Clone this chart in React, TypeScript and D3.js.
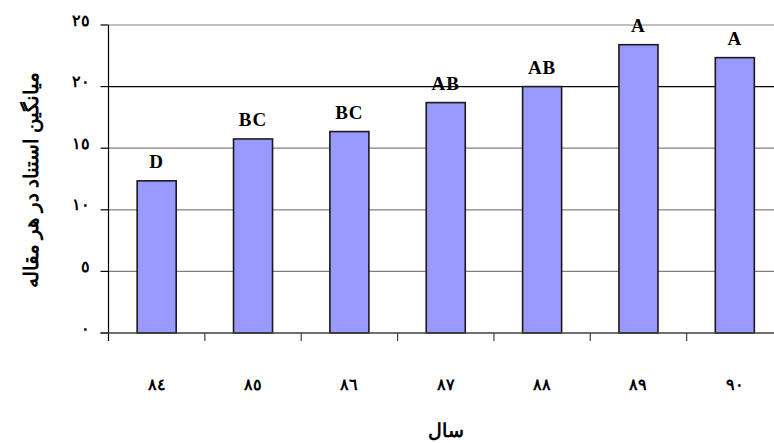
import React from "react";
import { scaleBand, scaleLinear } from "d3";

const years = ["٨٤", "٨٥", "٨٦", "٨٧", "٨٨", "٨٩", "٩٠"];
const citations = [12.35, 15.75, 16.35, 18.7, 20.0, 23.4, 22.35];
const groups = ["D", "BC", "BC", "AB", "AB", "A", "A"];
const yTicks = [0, 5, 10, 15, 20, 25];
const yTickLabels = ["٠", "٥", "١٠", "١٥", "٢٠", "٢٥"];

const W = 774;
const H = 443;
const font = "'Liberation Serif', 'Times New Roman', serif";

export default function App() {
  // plot runs past the right edge of the picture, like the original crop
  const xScale = scaleBand<string>()
    .domain(years)
    .range([108.5, 783])
    .paddingInner(0.595)
    .paddingOuter(0.2975);

  const yScale = scaleLinear().domain([0, 25]).range([333, 25]);

  const step = xScale.step();
  const x0 = xScale.range()[0];

  return (
    <svg
      width={W}
      height={H}
      style={{ position: "absolute", left: 0, top: 0, background: "#fff" }}
      fontFamily={font}
    >
      {/* Grid lines + y ticks */}
      {yTicks.map((t, i) => (
        <g key={t} transform={`translate(0,${yScale(t)})`}>
          {t > 0 && (
            <line
              x1={x0}
              x2={W}
              stroke={t === 20 ? "#000" : "#808080"}
              strokeWidth={1.2}
            />
          )}
          <line x1={x0 - 8} x2={x0} stroke="#000" strokeWidth={1.2} />
          <text
            x={90}
            y={-3}
            textAnchor="end"
            fontSize={15.5}
            fontWeight="bold"
            fill="#000"
            dominantBaseline="middle"
          >
            {yTickLabels[i]}
          </text>
        </g>
      ))}

      {/* Bars */}
      {years.map((yr, i) => (
        <rect
          key={yr}
          x={xScale(yr)!}
          y={yScale(citations[i])}
          width={xScale.bandwidth()}
          height={yScale(0) - yScale(citations[i])}
          fill="#9999FF"
          stroke="#1a1a1a"
          strokeWidth={1.6}
        />
      ))}

      {/* Axes */}
      <line x1={x0} x2={x0} y1={yScale(25)} y2={yScale(0) + 8} stroke="#000" strokeWidth={1.2} />
      <line x1={x0 - 8} x2={W} y1={yScale(0)} y2={yScale(0)} stroke="#404040" strokeWidth={1.6} />
      {years.map((yr, i) => (
        <line
          key={yr}
          x1={x0 + (i + 1) * step}
          x2={x0 + (i + 1) * step}
          y1={yScale(0)}
          y2={yScale(0) + 8}
          stroke="#404040"
          strokeWidth={1.2}
        />
      ))}

      {/* Group letters */}
      {years.map((yr, i) => (
        <text
          key={yr}
          x={xScale(yr)! + xScale.bandwidth() / 2}
          y={yScale(citations[i]) - 13}
          textAnchor="middle"
          fontSize={19}
          fontWeight="bold"
          letterSpacing={1}
          fill="#000"
        >
          {groups[i]}
        </text>
      ))}

      {/* X labels */}
      {years.map((yr) => (
        <text
          key={yr}
          x={xScale(yr)! + xScale.bandwidth() / 2}
          y={390}
          textAnchor="middle"
          fontSize={15.5}
          fontWeight="bold"
          fill="#000"
        >
          {yr}
        </text>
      ))}

      {/* Axis titles */}
      <text
        x={(x0 + 783) / 2}
        y={437}
        textAnchor="middle"
        fontSize={19}
        fontWeight="bold"
        fill="#000"
      >
        سال
      </text>
      <text
        transform={`translate(38,180) rotate(-90)`}
        textAnchor="middle"
        fontSize={19.5}
        fontWeight="bold"
        fill="#000"
      >
        میانگین استناد در هر مقاله
      </text>
    </svg>
  );
}
